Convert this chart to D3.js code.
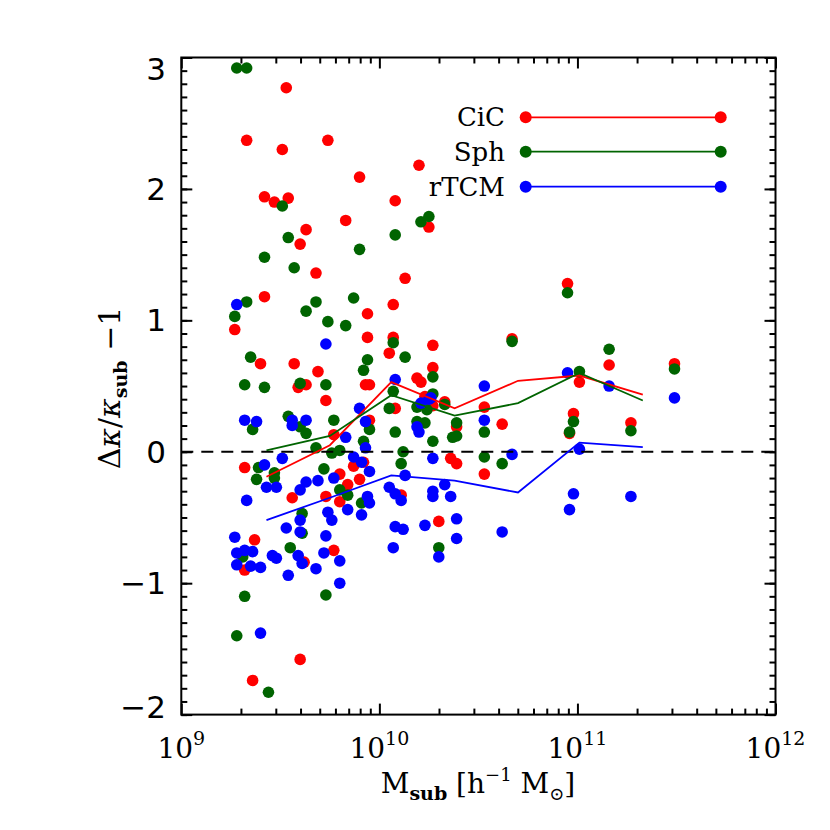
<!DOCTYPE html>
<html>
<head>
<meta charset="utf-8">
<script src="https://cdn.jsdelivr.net/npm/d3@7"></script>
<style>
  body { margin: 0; background: #fff; }
  #chart { width: 830px; height: 830px; }
</style>
</head>
<body>
<div id="chart"></div>
<script>

// log10(M_sub) and Δκ/κ_sub − 1
const cicLogM = [9.34, 9.53, 9.33, 9.51, 9.74, 9.90, 9.42, 9.47, 9.54, 10.08, 9.83, 9.63, 9.60, 9.68, 9.42, 10.07, 9.94, 9.27, 9.94, 10.07,
    10.05, 9.40, 9.57, 9.69, 9.59, 9.63, 9.73, 9.93, 9.95, 9.77, 9.95, 10.08, 9.32, 9.87, 9.92, 9.80, 9.90, 9.84, 9.73, 9.56,
    9.80, 9.37, 9.77, 9.62, 9.32, 9.60, 9.36, 10.20, 10.25, 10.13, 10.27, 10.67, 10.27, 10.19, 10.21, 10.23, 10.27, 10.33, 10.53, 10.62,
    10.39, 10.36, 10.39, 10.53, 10.11, 10.30, 10.95, 11.01, 10.98, 10.96, 11.16, 11.27, 11.49];
const cicVal = [3.04, 2.77, 2.37, 2.30, 2.37, 2.09, 1.94, 1.90, 1.93, 1.91, 1.76, 1.69, 1.58, 1.36, 1.18, 1.12, 1.05, 0.93, 0.87, 0.87,
    0.75, 0.67, 0.67, 0.61, 0.49, 0.51, 0.39, 0.51, 0.51, 0.13, 0.24, 0.33, -0.12, -0.11, -0.08, -0.17, -0.21, -0.25, -0.34, -0.35,
    -0.38, -0.67, -0.75, -0.84, -0.90, -1.58, -1.74, 2.18, 1.71, 1.32, 0.81, 0.86, 0.64, 0.56, 0.53, 0.42, 0.35, 0.38, 0.34, 0.21,
    0.19, -0.05, -0.09, -0.17, -0.33, -0.53, 1.28, 0.53, 0.29, 0.14, 0.66, 0.22, 0.67];

const sphLogM = [9.28, 9.33, 9.51, 9.54, 10.08, 9.90, 9.42, 9.57, 9.33, 9.68, 9.87, 9.63, 9.27, 9.74, 9.83, 10.07, 9.35, 9.94, 9.92, 9.32,
    9.42, 9.60, 9.73, 9.54, 9.36, 9.60, 9.63, 9.77, 9.95, 9.92, 10.05, 10.08, 10.07, 9.68, 9.76, 9.80, 9.39, 9.38, 9.47, 9.47,
    9.72, 9.80, 9.84, 9.91, 9.61, 9.61, 9.55, 9.31, 9.73, 9.32, 9.28, 9.44, 10.21, 10.25, 10.13, 10.27, 10.27, 10.19, 10.24, 10.33,
    10.53, 10.39, 10.19, 10.23, 10.27, 10.37, 10.39, 10.12, 10.11, 10.53, 10.62, 10.30, 10.67, 10.95, 11.01, 10.98, 10.96, 11.16, 11.27, 11.49];
const sphVal = [2.92, 2.92, 1.87, 1.63, 1.65, 1.54, 1.48, 1.40, 1.14, 1.14, 1.17, 1.07, 1.03, 0.99, 0.96, 0.83, 0.72, 0.70, 0.62, 0.51,
    0.49, 0.52, 0.51, 0.27, 0.17, 0.19, 0.14, 0.24, 0.17, 0.08, 0.33, 0.15, 0.46, 0.03, -0.01, 0.01, -0.12, -0.21, -0.16, -0.20,
    -0.13, -0.29, -0.33, -0.39, -0.47, -0.62, -0.73, -0.80, -1.09, -1.10, -1.40, -1.83, 1.75, 1.79, 0.72, 0.57, 0.44, 0.34, 0.32, 0.36,
    0.15, 0.22, 0.23, 0.22, 0.08, 0.11, 0.12, 0.00, -0.09, -0.04, -0.09, -0.73, 0.84, 1.21, 0.61, 0.23, 0.15, 0.78, 0.16, 0.63];

const rtcmLogM = [9.28, 9.73, 9.32, 9.38, 9.56, 9.56, 9.63, 9.83, 9.90, 9.93, 10.08, 9.93, 9.87, 9.91, 9.51, 9.42, 9.43, 9.48, 9.95, 9.77,
    9.69, 9.63, 9.60, 9.94, 9.95, 9.33, 9.84, 9.74, 9.76, 9.91, 9.60, 9.60, 9.53, 9.73, 10.08, 10.07, 9.27, 9.72, 9.28, 9.32,
    9.36, 9.46, 9.48, 9.59, 9.61, 9.80, 9.28, 9.35, 9.40, 9.68, 9.54, 9.80, 9.40, 10.21, 10.25, 10.26, 10.53, 10.53, 10.19, 10.20,
    10.27, 10.67, 10.13, 10.05, 10.08, 10.11, 10.27, 10.27, 10.33, 10.36, 10.39, 10.23, 10.12, 10.62, 10.39, 10.30, 10.95, 11.01, 10.98, 10.96,
    11.16, 11.27, 11.49];
const rtcmVal = [1.12, 0.82, 0.24, 0.23, 0.24, 0.20, 0.24, 0.11, 0.33, 0.23, 0.55, 0.03, -0.04, -0.08, -0.05, -0.10, -0.27, -0.27, -0.15, -0.20,
    -0.22, -0.23, -0.29, -0.34, -0.39, -0.37, -0.44, -0.46, -0.52, -0.48, -0.52, -0.61, -0.58, -0.64, -0.57, -0.73, -0.65, -0.77, -0.77, -0.75,
    -0.76, -0.79, -0.81, -0.79, -0.85, -0.83, -0.86, -0.87, -0.88, -0.89, -0.94, -1.00, -1.38, 0.37, 0.40, 0.41, 0.50, 0.24, 0.19, 0.15,
    -0.05, -0.02, -0.18, -0.27, -0.32, -0.37, -0.30, -0.34, -0.25, -0.34, -0.51, -0.56, -0.59, -0.61, -0.66, -0.80, 0.60, 0.02, -0.32, -0.44,
    0.50, -0.34, 0.41];

// binned medians
const binLogM = [9.43, 9.75, 10.06, 10.38, 10.70, 11.01, 11.33];
const cicMedian = [-0.19, 0.05, 0.53, 0.33, 0.54, 0.58, 0.435];
const sphMedian = [0.01, 0.12, 0.43, 0.275, 0.37, 0.60, 0.39];
const rtcmMedian = [-0.52, -0.35, -0.18, -0.22, -0.31, 0.07, 0.035];

const methods = ["CiC", "Sph", "rTCM"];
const yTicks = [-2, -1, 0, 1, 2, 3];
const xTicks = [9, 10, 11, 12];

const series = [
    {name: "CiC", color: "#ff0000", logm: cicLogM, val: cicVal, med: cicMedian},
    {name: "Sph", color: "#006400", logm: sphLogM, val: sphVal, med: sphMedian},
    {name: "rTCM", color: "#0000ff", logm: rtcmLogM, val: rtcmVal, med: rtcmMedian}
];

const width = 830, height = 830;
const margin = {top: 57.5, left: 181.3, right: 54.5, bottom: 115.4};

const svg = d3.select("#chart")
    .append("svg")
    .attr("width", width)
    .attr("height", height);

const xScale = d3.scaleLog()
    .domain([1e9, 1e12])
    .range([margin.left, width - margin.right]);

const yScale = d3.scaleLinear()
    .domain([-2, 3])
    .range([height - margin.bottom, margin.top]);

const x0 = margin.left, x1 = width - margin.right;
const y0 = height - margin.bottom, y1 = margin.top;

svg.append("clipPath").attr("id", "plotclip")
    .append("rect")
    .attr("x", x0).attr("y", y1)
    .attr("width", x1 - x0).attr("height", y0 - y1);

/*
POINTS
*/
const plot = svg.append("g").attr("clip-path", "url(#plotclip)");

series.forEach(function(s) {
    const pts = s.logm.map(function(m, i) { return {m: Math.pow(10, m), v: s.val[i]}; });
    plot.append("g").selectAll("circle")
        .data(pts)
        .enter()
        .append("circle")
            .attr("cx", function(d) { return xScale(d.m); })
            .attr("cy", function(d) { return yScale(d.v); })
            .attr("r", 5.8)
            .attr("fill", s.color);
});

// zero line
plot.append("line")
    .attr("x1", x0).attr("x2", x1)
    .attr("y1", yScale(0)).attr("y2", yScale(0))
    .attr("stroke", "#000")
    .attr("stroke-width", 2)
    .attr("stroke-dasharray", "12,8");

// median lines
const line = d3.line()
    .x(function(d) { return xScale(d.m); })
    .y(function(d) { return yScale(d.v); });

series.forEach(function(s) {
    const pts = binLogM.map(function(m, i) { return {m: Math.pow(10, m), v: s.med[i]}; });
    plot.append("path")
        .datum(pts)
        .attr("d", line)
        .attr("fill", "none")
        .attr("stroke", s.color)
        .attr("stroke-width", 1.8);
});

/*
AXES
*/
const xMinor = [];
for (let e = 9; e < 12; e++) {
    for (let k = 2; k <= 9; k++) xMinor.push(k * Math.pow(10, e));
}
const xMajor = xTicks.map(function(e) { return Math.pow(10, e); });
const yMinor = d3.range(-20, 31).map(function(i) { return i / 10; });

function styleAxis(g) {
    g.select(".domain").remove();
    g.selectAll("line").attr("stroke", "#000").attr("stroke-width", 2);
    g.selectAll("text").remove();
}

svg.append("g").attr("transform", `translate(0,${y0})`)
    .call(d3.axisBottom(xScale).tickValues(xMinor).tickSize(-6)).call(styleAxis);
svg.append("g").attr("transform", `translate(0,${y0})`)
    .call(d3.axisBottom(xScale).tickValues(xMajor).tickSize(-11)).call(styleAxis);
svg.append("g").attr("transform", `translate(0,${y1})`)
    .call(d3.axisTop(xScale).tickValues(xMinor).tickSize(-6)).call(styleAxis);
svg.append("g").attr("transform", `translate(0,${y1})`)
    .call(d3.axisTop(xScale).tickValues(xMajor).tickSize(-11)).call(styleAxis);

svg.append("g").attr("transform", `translate(${x0},0)`)
    .call(d3.axisLeft(yScale).tickValues(yMinor).tickSize(-6)).call(styleAxis);
svg.append("g").attr("transform", `translate(${x0},0)`)
    .call(d3.axisLeft(yScale).tickValues(yTicks).tickSize(-11)).call(styleAxis);
svg.append("g").attr("transform", `translate(${x1},0)`)
    .call(d3.axisRight(yScale).tickValues(yMinor).tickSize(-6)).call(styleAxis);
svg.append("g").attr("transform", `translate(${x1},0)`)
    .call(d3.axisRight(yScale).tickValues(yTicks).tickSize(-11)).call(styleAxis);

svg.append("rect")
    .attr("x", x0).attr("y", y1)
    .attr("width", x1 - x0).attr("height", y0 - y1)
    .attr("fill", "none")
    .attr("stroke", "#000")
    .attr("stroke-width", 2);

// y tick labels (end labels pulled inside like IDL does)
svg.selectAll(".ylab")
    .data(yTicks)
    .enter()
    .append("text")
        .attr("class", "ylab")
        .attr("x", 166)
        .attr("y", function(d) {
            let y = yScale(d);
            if (d === 3) y += 11;
            if (d === -2) y -= 8;
            return y + 11;
        })
        .attr("text-anchor", "end")
        .style("font-family", "DejaVu Sans")
        .style("font-size", "31px")
        .text(function(d) { return d < 0 ? "\u2212" + Math.abs(d) : d; });

// x tick labels
const xl = svg.selectAll(".xlab")
    .data(xTicks)
    .enter()
    .append("text")
        .attr("class", "xlab")
        .attr("x", function(d) { return xScale(Math.pow(10, d)); })
        .attr("y", 758)
        .attr("text-anchor", "middle")
        .style("font-family", "DejaVu Serif")
        .style("font-size", "28px");
xl.append("tspan").text("10");
xl.append("tspan").attr("dy", -13).style("font-size", "19px").text(function(d) { return d; });

// axis titles
const xt = svg.append("text")
    .attr("x", 478).attr("y", 793)
    .attr("text-anchor", "middle")
    .style("font-family", "DejaVu Serif")
    .style("font-size", "28px");
xt.append("tspan").text("M");
xt.append("tspan").attr("dy", 7).style("font-size", "19px").style("font-weight", "bold").text("sub");
xt.append("tspan").attr("dy", -7).text(" [h");
xt.append("tspan").attr("dy", -12).style("font-size", "18px").text("\u22121");
xt.append("tspan").attr("dy", 12).text(" M");
xt.append("tspan").attr("dy", 7).style("font-size", "18px").text("\u2299");
xt.append("tspan").attr("dy", -7).text("]");

const yt = svg.append("text")
    .attr("transform", "translate(120,388) rotate(-90)")
    .attr("text-anchor", "middle")
    .style("font-family", "DejaVu Serif")
    .style("font-size", "30px");
yt.append("tspan").text("\u0394");
yt.append("tspan").style("font-style", "italic").text("\u03ba");
yt.append("tspan").text("/");
yt.append("tspan").style("font-style", "italic").text("\u03ba");
yt.append("tspan").attr("dy", 7).style("font-size", "19px").style("font-weight", "bold").text("sub");
yt.append("tspan").attr("dy", -7).text(" \u22121");

/*
LEGEND
*/
const legY = [117.3, 151.7, 186.7];
const leg = svg.append("g");
series.forEach(function(s, i) {
    const g = leg.append("g");
    g.append("line")
        .attr("x1", 525.7).attr("x2", 720.7)
        .attr("y1", legY[i]).attr("y2", legY[i])
        .attr("stroke", s.color).attr("stroke-width", 1.8);
    g.selectAll("circle")
        .data([525.7, 720.7])
        .enter()
        .append("circle")
            .attr("cx", function(d) { return d; })
            .attr("cy", legY[i])
            .attr("r", 6)
            .attr("fill", s.color);
    g.append("text")
        .attr("x", 505).attr("y", legY[i] + 9)
        .attr("text-anchor", "end")
        .style("font-family", "DejaVu Serif")
        .style("font-size", "26px")
        .text(methods[i]);
});

</script>
</body>
</html>
